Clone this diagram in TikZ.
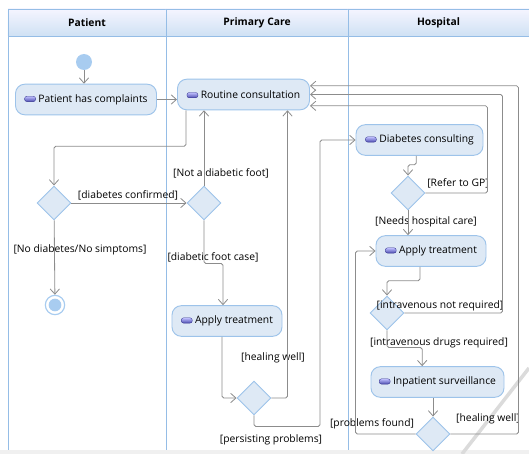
\documentclass[tikz,border=0pt]{standalone}
\usepackage{fontspec}
\setmainfont{Open Sans}
\usepackage{tikz}
\usetikzlibrary{shapes,arrows.meta,positioning,calc}

\definecolor{lanecol}{HTML}{95BDE6}
\definecolor{actfill}{HTML}{DEE9F5}
\definecolor{actdraw}{HTML}{9DC3EA}
\definecolor{flowcol}{HTML}{8C8C8C}
\definecolor{dotcol}{HTML}{A8CCF0}

\tikzstyle{lanehead} = [rectangle, draw=lanecol, line width=0.8pt, top color=blue!4, bottom color=lanecol!45, minimum height=0.81cm, font=\fontsize{8.8}{10}\selectfont\bfseries]
\tikzstyle{action} = [rectangle, rounded corners=0.28cm, draw=actdraw, fill=actfill, line width=0.8pt, minimum height=0.92cm, inner xsep=2pt, font=\fontsize{8.8}{10}\selectfont]
\tikzstyle{decision} = [diamond, draw=actdraw, fill=actfill, line width=0.8pt, minimum width=1.02cm, minimum height=1.02cm, inner sep=0pt]
\tikzstyle{flow} = [-{Straight Barb[length=4.5pt,width=8pt]}, draw=flowcol, line width=0.7pt, rounded corners=1.5pt]
\tikzstyle{guard} = [font=\fontsize{8.8}{10}\selectfont, inner sep=1pt]

\newcommand{\actionicon}{\tikz[baseline=-0.1ex]\shade[top color=blue!25, bottom color=blue!55!black!70, draw=blue!45!black!80, line width=0.3pt, rounded corners=0.07cm] (0,0) rectangle (0.33cm,0.16cm);}

\begin{document}
\begin{tikzpicture}[x=0.03cm, y=-0.03cm]
    \useasboundingbox (0,0) rectangle (529,454);
    \fill[gray!12] (0,450) rectangle (529,454);

    % Swimlanes
    \node[lanehead, minimum width=4.74cm] (patienthead) at (87,22.5) {Patient};
    \node[lanehead, minimum width=5.46cm] (carehead) at (257,22.5) {Primary Care};
    \node[lanehead, minimum width=5.43cm] (hospitalhead) at (438.5,22.5) {Hospital};
    \draw[lanecol, line width=0.8pt] (8,9) -- (8,450);
    \draw[lanecol, line width=0.8pt] (166,9) -- (166,450);
    \draw[lanecol, line width=0.8pt] (348,9) -- (348,450);
    \draw[gray!28, line width=3pt] (529,368) -- (462,454);

    % Patient
    \node[circle, fill=dotcol, minimum size=0.48cm, inner sep=0pt] (start) at (84,62) {};
    \node[action, minimum width=4.23cm] (complaints) at (86,99.5) {\actionicon\ Patient has complaints};
    \node[decision] (d1) at (54,203) {};
    \node[circle, draw=dotcol, line width=1pt, fill=white, minimum size=0.58cm, inner sep=0pt] (stop) at (55,305) {};
    \node[circle, fill=dotcol, minimum size=0.38cm, inner sep=0pt] (stopdot) at (55,305) {};

    % Primary care
    \node[action, minimum width=3.96cm] (routine) at (243.5,94.5) {\actionicon\ Routine consultation};
    \node[decision] (d2) at (204,203) {};
    \node[action, minimum width=3.3cm] (treatp) at (227,321) {\actionicon\ Apply treatment};
    \node[decision] (d3) at (254,398) {};

    % Hospital
    \node[action, minimum width=3.81cm] (diabetes) at (419.5,140) {\actionicon\ Diabetes consulting};
    \node[decision] (d4) at (408,193) {};
    \node[action, minimum width=3.3cm] (treath) at (431,251) {\actionicon\ Apply treatment};
    \node[decision] (d5) at (387,313) {};
    \node[action, minimum width=3.99cm] (inpatient) at (437.5,382) {\actionicon\ Inpatient surveillance};
    \node[decision] (d6) at (433,434) {};

    % Guards
    \node[guard] (g1) at (128,195) {[diabetes confirmed]};
    \node[guard] (g2) at (80,250) {[No diabetes/No simptoms]};
    \node[guard] (g3) at (221,173) {[Not a diabetic foot]};
    \node[guard] (g4) at (213,257) {[diabetic foot case]};
    \node[guard] (g5) at (273,358) {[healing well]};
    \node[guard] (g6) at (271,440) {[persisting problems]};
    \node[guard] (g7) at (458,183) {[Refer to GP]};
    \node[guard] (g8) at (426,222) {[Needs hospital care]};
    \node[guard] (g9) at (440,306) {[intravenous not required]};
    \node[guard] (g10) at (439,343) {[intravenous drugs required]};
    \node[guard] (g11) at (372,424) {[problems found]};
    \node[guard] (g12) at (488,419) {[healing well]};

    % Connections
    \draw[flow] (start) -- (start |- complaints.north);
    \draw[flow] (complaints.east) -- (complaints.east -| routine.west);
    \draw[flow] (routine.south west) ++(9,0) -- ++(0,36) -| (d1);
    \draw[flow] (d1) -- (d2);
    \draw[flow] (d1) -- (stop);
    \draw[flow] (d2) -- (d2 |- routine.south);
    \draw[flow] (d2.south) -- ++(0,43) -| ([xshift=-0.12cm]treatp.north);
    \draw[flow] ([xshift=-0.15cm]treatp.south) |- (d3);
    \draw[flow] (d3.east) -| ([xshift=1.32cm]routine.south);
    \draw[flow] (d3.south) -- ++(0,11) -- ++(66,0) |- (diabetes);
    \draw[flow] ([xshift=-0.1cm]diabetes.south) -- ++(0,9) -| (d4);
    \draw[flow] (d4.east) -- ++(62,0) |- ([yshift=-0.34cm]routine.east);
    \draw[flow] (d4) -- (d4 |- treath.north);
    \draw[flow] ([xshift=-0.33cm]treath.south) -- ++(0,14) -| (d5);
    \draw[flow] (d5.east) -- ++(98,0) |- (routine.east);
    \draw[flow] (d5.south) -- ++(0,17) -| ([xshift=-0.46cm]inpatient.north);
    \draw[flow] (inpatient.south -| d6) -- (d6);
    \draw[flow] (d6.west) -- ++(-60,0) |- (treath);
    \draw[flow] (d6.east) -- ++(68,0) |- ([yshift=0.26cm]routine.east);
\end{tikzpicture}
\end{document}
